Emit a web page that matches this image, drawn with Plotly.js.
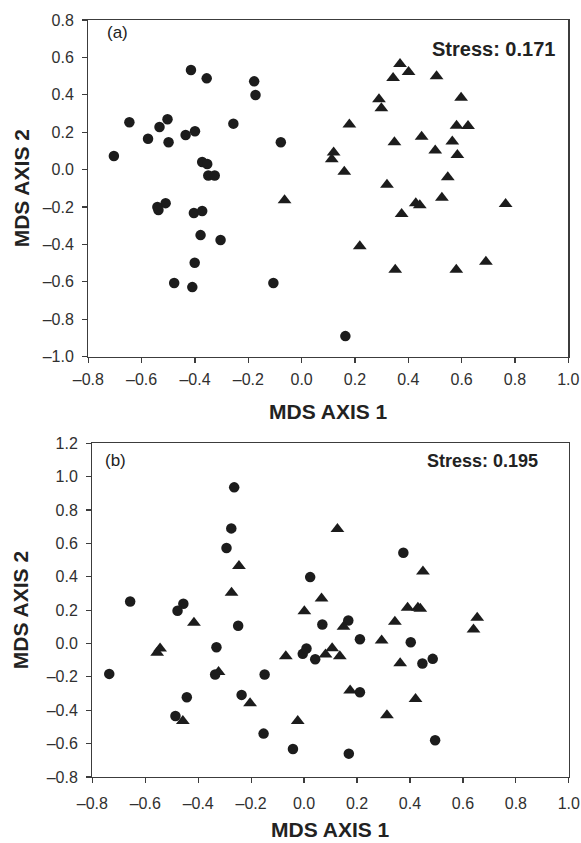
<!DOCTYPE html>
<html>
<head>
<meta charset="utf-8">
<script src="https://cdn.plot.ly/plotly-3.0.1.min.js"></script>
<style>html,body{margin:0;padding:0;background:#fff;}#chart{width:581px;height:843px;}</style>
</head>
<body>
<div id="chart"></div>
<script>
// Panel (a)
var aCircleX = [-0.415,-0.356,-0.178,-0.173,-0.646,-0.503,-0.533,-0.256,-0.576,-0.435,-0.400,-0.499,-0.078,-0.704,-0.373,-0.354,-0.350,-0.326,-0.510,-0.541,-0.537,-0.404,-0.373,-0.379,-0.304,-0.401,-0.478,-0.410,-0.106,0.164];
var aCircleY = [0.533,0.488,0.472,0.399,0.253,0.269,0.228,0.246,0.165,0.185,0.205,0.146,0.146,0.073,0.041,0.030,-0.031,-0.031,-0.179,-0.200,-0.216,-0.232,-0.221,-0.350,-0.376,-0.498,-0.606,-0.628,-0.606,-0.890];
var aTriX = [-0.064,0.369,0.401,0.343,0.506,0.290,0.299,0.598,0.179,0.581,0.624,0.450,0.348,0.565,0.501,0.584,0.120,0.113,0.160,0.320,0.548,0.526,0.428,0.443,0.375,0.765,0.218,0.351,0.580,0.691];
var aTriY = [-0.163,0.565,0.522,0.490,0.499,0.376,0.328,0.385,0.242,0.235,0.233,0.176,0.146,0.151,0.103,0.078,0.091,0.055,-0.011,-0.081,-0.041,-0.150,-0.180,-0.190,-0.237,-0.184,-0.409,-0.535,-0.535,-0.492];
// Panel (b)
var bCircleX = [-0.264,-0.275,-0.293,-0.657,-0.456,-0.478,-0.249,-0.331,-0.736,-0.336,-0.149,-0.443,-0.236,-0.486,-0.153,-0.042,0.023,-0.005,0.009,0.042,0.375,0.069,0.167,0.211,0.403,0.447,0.486,0.211,0.495,0.169];
var bCircleY = [0.936,0.690,0.572,0.252,0.238,0.196,0.106,-0.022,-0.182,-0.186,-0.186,-0.322,-0.308,-0.434,-0.540,-0.632,0.398,-0.062,-0.030,-0.094,0.544,0.114,0.138,0.026,0.008,-0.120,-0.092,-0.292,-0.580,-0.660];
var bTriX = [-0.246,-0.274,-0.416,-0.544,-0.555,-0.323,-0.204,-0.458,-0.069,-0.024,0.001,0.126,0.449,0.066,0.391,0.430,0.439,0.654,0.640,0.343,0.149,0.293,0.106,0.081,0.135,0.363,0.174,0.421,0.313];
var bTriY = [0.464,0.304,0.124,-0.030,-0.056,-0.170,-0.358,-0.464,-0.076,-0.464,0.194,0.686,0.432,0.270,0.214,0.214,0.208,0.154,0.084,0.130,0.100,0.018,-0.028,-0.066,-0.076,-0.118,-0.282,-0.332,-0.430];

var xTickVals = [-0.8,-0.6,-0.4,-0.2,0.0,0.2,0.4,0.6,0.8,1.0];
var xTickText = ['\u20130.8','\u20130.6','\u20130.4','\u20130.2','0.0','0.2','0.4','0.6','0.8','1.0'];
var aYTickVals = [-1.0,-0.8,-0.6,-0.4,-0.2,0.0,0.2,0.4,0.6,0.8];
var aYTickText = ['\u20131.0','\u20130.8','\u20130.6','\u20130.4','\u20130.2','0.0','0.2','0.4','0.6','0.8'];
var bYTickVals = [-0.8,-0.6,-0.4,-0.2,0.0,0.2,0.4,0.6,0.8,1.0,1.2];
var bYTickText = ['\u20130.8','\u20130.6','\u20130.4','\u20130.2','0.0','0.2','0.4','0.6','0.8','1.0','1.2'];

var stressA = 'Stress: 0.171';
var stressB = 'Stress: 0.195';
var xTitle = 'MDS AXIS 1';
var yTitle = 'MDS AXIS 2';

var markColor = '#1c1c1c';
var circleMarker = {symbol:'circle', size:10.5, color:markColor, line:{width:0}};
var triMarker = {symbol:'triangle-up', size:12, color:markColor, line:{width:0}};

var traces = [
  {x:aCircleX, y:aCircleY, xaxis:'x', yaxis:'y', mode:'markers', type:'scatter', marker:circleMarker, cliponaxis:false},
  {x:aTriX, y:aTriY, xaxis:'x', yaxis:'y', mode:'markers', type:'scatter', marker:triMarker, cliponaxis:false},
  {x:bCircleX, y:bCircleY, xaxis:'x2', yaxis:'y2', mode:'markers', type:'scatter', marker:circleMarker, cliponaxis:false},
  {x:bTriX, y:bTriY, xaxis:'x2', yaxis:'y2', mode:'markers', type:'scatter', marker:triMarker, cliponaxis:false}
];

var FONT = 'Liberation Sans, Arial, Helvetica, sans-serif';
var axisCommon = {
  showline:true, mirror:true, linecolor:'#3c3c3c', linewidth:1.3,
  ticks:'outside', ticklen:5, tickwidth:1.2, tickcolor:'#3c3c3c',
  showgrid:false, zeroline:false, fixedrange:true,
  tickfont:{family:FONT, size:16, color:'#303030'}
};
function ax(extra){ var o={}; for (var k in axisCommon) o[k]=axisCommon[k]; for (var k2 in extra) o[k2]=extra[k2]; return o; }

var W = 581, H = 843;
var layout = {
  width:W, height:H, margin:{l:0,r:0,t:0,b:0}, showlegend:false,
  paper_bgcolor:'#ffffff', plot_bgcolor:'#ffffff',
  font:{family:FONT, color:'#222'},
  xaxis: ax({domain:[88.3/W, 568.3/W], range:[-0.8,1.0], anchor:'y', tickvals:xTickVals, ticktext:xTickText, ticklabelstandoff:3}),
  yaxis: ax({domain:[(H-356.7)/H, (H-20)/H], range:[-1.0,0.8], anchor:'x', tickvals:aYTickVals, ticktext:aYTickText, ticklabelstandoff:5}),
  xaxis2: ax({domain:[92.3/W, 568.8/W], range:[-0.8,1.0], anchor:'y2', tickvals:xTickVals, ticktext:xTickText, ticklabelstandoff:6}),
  yaxis2: ax({domain:[(H-777)/H, (H-443.3)/H], range:[-0.8,1.2], anchor:'x2', tickvals:bYTickVals, ticktext:bYTickText, ticklabelstandoff:5}),
  annotations: [
    {text:'(a)', xref:'x domain', yref:'y domain', x:0.034, y:0.963, xanchor:'left', yanchor:'middle', showarrow:false, font:{family:FONT, size:17, color:'#222'}},
    {text:stressA, xref:'x domain', yref:'y domain', x:0.976, y:0.915, xanchor:'right', yanchor:'middle', showarrow:false, font:{family:FONT, size:20, color:'#222', weight:'bold'}},
    {text:xTitle, xref:'x domain', yref:'paper', x:0.5, y:(H-411)/H, xanchor:'center', yanchor:'middle', showarrow:false, font:{family:FONT, size:21, color:'#222', weight:'bold'}},
    {text:yTitle, xref:'paper', yref:'y domain', x:21/W, y:0.5, xanchor:'center', yanchor:'middle', textangle:-90, showarrow:false, font:{family:FONT, size:21, color:'#222', weight:'bold'}},
    {text:'(b)', xref:'x2 domain', yref:'y2 domain', x:0.023, y:0.947, xanchor:'left', yanchor:'middle', showarrow:false, font:{family:FONT, size:17, color:'#222'}},
    {text:stressB, xref:'x2 domain', yref:'y2 domain', x:0.94, y:0.947, xanchor:'right', yanchor:'middle', showarrow:false, font:{family:FONT, size:18, color:'#222', weight:'bold'}},
    {text:xTitle, xref:'x2 domain', yref:'paper', x:0.5, y:(H-829)/H, xanchor:'center', yanchor:'middle', showarrow:false, font:{family:FONT, size:21, color:'#222', weight:'bold'}},
    {text:yTitle, xref:'paper', yref:'y2 domain', x:20/W, y:0.5, xanchor:'center', yanchor:'middle', textangle:-90, showarrow:false, font:{family:FONT, size:21, color:'#222', weight:'bold'}}
  ]
};

Plotly.newPlot('chart', traces, layout, {displayModeBar:false, staticPlot:true});
</script>
</body>
</html>
